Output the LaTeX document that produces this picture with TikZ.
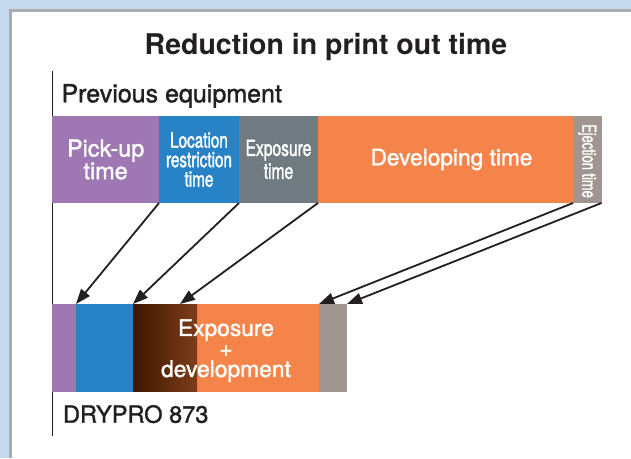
\documentclass[tikz,border=0pt]{standalone}
\usepackage{fontspec}
\setmainfont{TeX Gyre Heros}
\newfontfamily\hv{TeX Gyre Heros}
\newfontfamily\hvm[FakeBold=1.5]{TeX Gyre Heros}
\newfontfamily\hvn[FakeStretch=0.71,FakeBold=1.5]{TeX Gyre Heros}
\newfontfamily\hvnn[FakeStretch=0.66,FakeBold=1.5]{TeX Gyre Heros}
\usetikzlibrary{arrows.meta}
\definecolor{bgblue}{HTML}{C5DAEE}
\definecolor{panelgray}{HTML}{A8ACB1}
\definecolor{cpurple}{HTML}{9E77B3}
\definecolor{cblue}{HTML}{2883C6}
\definecolor{cgray}{HTML}{6F7B81}
\definecolor{corange}{HTML}{F48449}
\definecolor{cejec}{HTML}{A09591}
\definecolor{dkbrown}{HTML}{3E1700}
\definecolor{ink}{HTML}{231F20}
\begin{document}
\begin{tikzpicture}[x=1pt,y=-1pt,
  seg/.style={anchor=north west, inner sep=0pt, outer sep=0pt, text=white, align=center},
  topseg/.style={seg, minimum height=87pt},
  botseg/.style={seg, minimum height=87.5pt},
  arr/.style={draw=ink, line width=1.8pt, -{Triangle[length=15pt,width=11pt]}},
  lbl/.style={inner sep=0pt, outer sep=0pt, text=ink}]
\fill[bgblue] (0,0) rectangle (631,458);
\useasboundingbox (0,0) rectangle (631,458);
\fill[panelgray] (9,9) rectangle (631,458);
\fill[white] (12,12) rectangle (631,458);

% title and labels
\node[lbl, font=\hv\bfseries\fontsize{28.5}{30}\selectfont] (title) at (326,47) {Reduction in print out time};
\node[lbl, anchor=base west, font=\hvm\fontsize{25}{27}\selectfont] (prev) at (61.5,102.3) {Previous equipment};
\node[lbl, anchor=base west, font=\hvm\fontsize{23.6}{26}\selectfont] (dry) at (63,422.7) {DRYPRO 873};

% axis
\coordinate (axtop) at (52.3,71);
\coordinate (axbot) at (52.3,436);
\draw[ink, line width=1pt] (axtop) -- (axbot);

% top bar
\node[topseg, fill=cpurple, minimum width=106.7pt, font=\hvm\fontsize{23.4}{21}\selectfont] (pu) at (52.3,116) {Pick-up\\time};
\node[topseg, fill=cblue, minimum width=80pt, font=\hvn\fontsize{21.5}{19.5}\selectfont] (lr) at (159,116) {Location\\restriction\\time};
\node[topseg, fill=cgray, minimum width=79pt, font=\hvn\fontsize{22}{23}\selectfont] (ex) at (239,116) {Exposure\\time};
\node[topseg, fill=corange, minimum width=255pt, font=\hvm\fontsize{22.7}{22}\selectfont] (dv) at (318,116) {\hspace*{12pt}Developing time};
\node[topseg, fill=cejec, minimum width=28.5pt] (ej) at (573,116) {};
\node[lbl, text=white, rotate=-90, font=\hvnn\fontsize{19.5}{20}\selectfont] (ejt) at ([yshift=-1.5pt]ej.center) {Ejection time};

% bottom bar
\node[botseg, fill=cpurple, minimum width=23.7pt] (bpu) at (52.3,304) {};
\node[botseg, fill=cblue, minimum width=57pt] (bbl) at (76,304) {};
\node[botseg, fill=corange, minimum width=186pt, font=\hvm\fontsize{22.8}{20.5}\selectfont,
  path picture={\shade[left color=dkbrown, right color=corange]
    (path picture bounding box.north west) rectangle ([xshift=64pt]path picture bounding box.south west);}]
  (dev) at (133,304) {\rule{0pt}{22.4pt}Exposure\\+\\development};
\node[botseg, fill=cejec, minimum width=28pt] (bej) at (319,304) {};

% arrows
\draw[arr] (pu.south east) -- (bpu.north east);
\draw[arr] (lr.south east) -- (bbl.north east);
\draw[arr] (ex.south east) -- ([xshift=47pt]dev.north west);
\draw[arr] (dv.south east) -- (dev.north east);
\draw[arr] (ej.south east) -- (bej.north east);
\end{tikzpicture}
\end{document}
